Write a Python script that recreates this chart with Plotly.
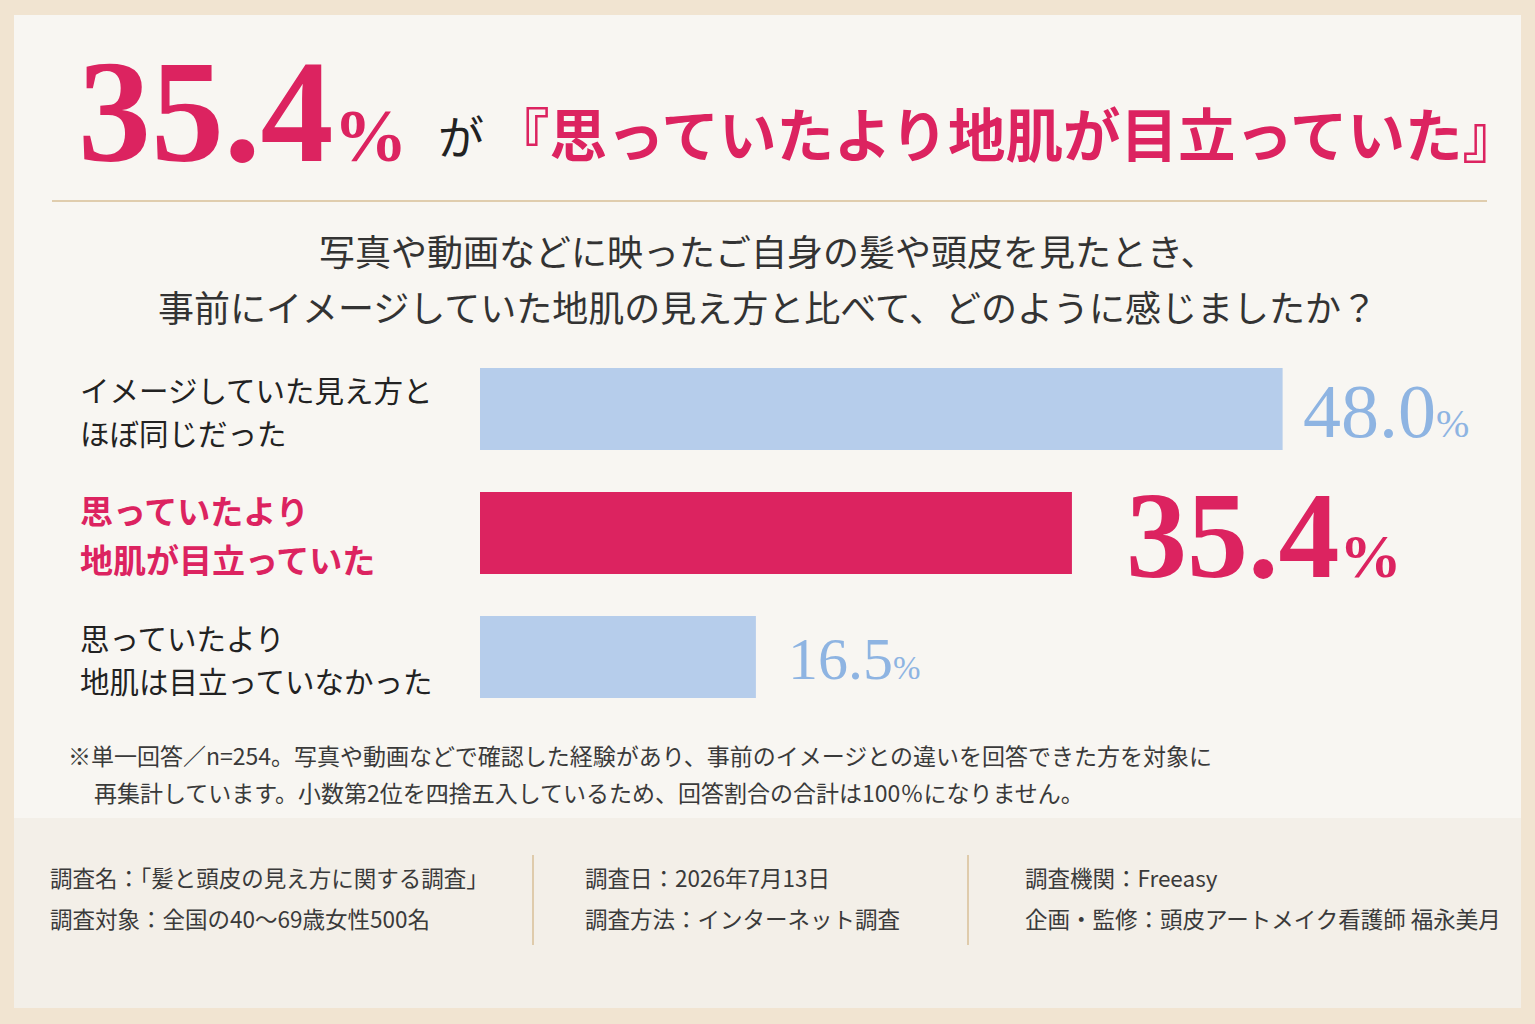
import plotly.graph_objects as go

# survey results
categories = [
    'イメージしていた見え方と<br>ほぼ同じだった',
    '思っていたより<br>地肌が目立っていた',
    '思っていたより<br>地肌は目立っていなかった',
]
shares = [48.0, 35.4, 16.5]
highlight = [False, True, False]

headline_value = 35.4
headline_text = '『思っていたより地肌が目立っていた』'
question = ['写真や動画などに映ったご自身の髪や頭皮を見たとき、',
            '事前にイメージしていた地肌の見え方と比べて、どのように感じましたか？']
notes = ['※単一回答／n=254。写真や動画などで確認した経験があり、事前のイメージとの違いを回答できた方を対象に',
         '再集計しています。小数第2位を四捨五入しているため、回答割合の合計は100％になりません。']
footer = [
    ['調査名：「髪と頭皮の見え方に関する調査」', '調査対象：全国の40～69歳女性500名'],
    ['調査日：2026年7月13日', '調査方法：インターネット調査'],
    ['調査機関：Freeasy', '企画・監修：頭皮アートメイク看護師 福永美月'],
]

W, H = 1535, 1024
RED = '#dc2360'
BLUE_BAR = '#b6cdeb'
BLUE_TXT = '#8eb4e2'
TAN = '#d9bf97'
SERIF = 'Liberation Serif, Noto Sans CJK JP, serif'
JP = 'Noto Sans CJK JP, sans-serif'


def px(x):
    return x / W


def py(y):
    return 1 - y / H


fig = go.Figure()
fig.add_trace(go.Bar(
    x=shares,
    y=categories,
    orientation='h',
    width=0.66,
    marker=dict(color=[RED if h else BLUE_BAR for h in highlight], line=dict(width=0)),
    hoverinfo='skip',
))

shapes = [
    # card, footer band, dividers
    dict(type='rect', xref='paper', yref='paper', x0=px(14), x1=px(1521), y0=py(1008), y1=py(15),
         fillcolor='#f8f6f2', line=dict(width=0), layer='below'),
    dict(type='rect', xref='paper', yref='paper', x0=px(14), x1=px(1521), y0=py(1008), y1=py(818),
         fillcolor='#f3efe8', line=dict(width=0), layer='below'),
    dict(type='line', xref='paper', yref='paper', x0=px(52), x1=px(1487), y0=py(201), y1=py(201),
         line=dict(color=TAN, width=1.5)),
    dict(type='line', xref='paper', yref='paper', x0=px(533), x1=px(533), y0=py(855), y1=py(945),
         line=dict(color=TAN, width=1.5)),
    dict(type='line', xref='paper', yref='paper', x0=px(968), x1=px(968), y0=py(855), y1=py(945),
         line=dict(color=TAN, width=1.5)),
]

ann = []
# headline
ann.append(dict(text=f'<b>{headline_value}</b><span style="font-size:74px"><b>%</b></span>',
                x=px(76), y=py(112), xref='paper', yref='paper', xanchor='left', yanchor='middle',
                showarrow=False, font=dict(family=SERIF, size=146, color=RED)))
ann.append(dict(text='が', x=px(436), y=py(134), xref='paper', yref='paper', xanchor='left', yanchor='middle',
                showarrow=False, font=dict(family=JP, size=46, color='#222222')))
ann.append(dict(text=f'<b>{headline_text}</b>', x=px(490), y=py(132), xref='paper', yref='paper',
                xanchor='left', yanchor='middle', showarrow=False,
                font=dict(family=JP, size=57.5, color=RED)))

# question
for i, line in enumerate(question):
    ann.append(dict(text=line, x=0.5, y=py(250 + 56 * i), xref='paper', yref='paper',
                    xanchor='center', yanchor='middle', showarrow=False,
                    font=dict(family=JP, size=36, color='#333333')))

# category labels (one annotation per line for wider leading) and values
for cat, v, h in zip(categories, shares, highlight):
    parts = cat.split('<br>')
    gap = 49 if h else 43
    for k, part in enumerate(parts):
        ann.append(dict(text=f'<b>{part}</b>' if h else part, x=px(78), y=cat, xref='paper', yref='y',
                        xanchor='left', yanchor='middle', showarrow=False,
                        yshift=gap * ((len(parts) - 1) / 2 - k) - 1,
                        font=dict(family=JP, size=33 if h else 29.5, color=RED if h else '#222222')))
    if h:
        txt = f'<b>{v:.1f}</b><span style="font-size:62px"><b>%</b></span>'
        f = dict(family=SERIF, size=122, color=RED)
        shift = 52
    else:
        big = v > 40
        txt = f'{v:.1f}<span style="font-size:{40 if big else 33}px">%</span>'
        f = dict(family=SERIF, size=76 if big else 60, color=BLUE_TXT)
        shift = 18 if big else 30
    ann.append(dict(text=txt, x=v, y=cat, xref='x', yref='y', xanchor='left', yanchor='middle',
                    xshift=shift, yshift=-2, showarrow=False, font=f))

# notes
for i, line in enumerate(notes):
    ann.append(dict(text=line, x=px(66 if i == 0 else 92), y=py(755 + 37 * i), xref='paper', yref='paper',
                    xanchor='left', yanchor='middle', showarrow=False,
                    font=dict(family=JP, size=23, color='#3a3a3a')))

# footer
for col, lines in zip([48, 583, 1023], footer):
    for j, line in enumerate(lines):
        ann.append(dict(text=line, x=px(col), y=py(877 + 41 * j), xref='paper', yref='paper',
                        xanchor='left', yanchor='middle', showarrow=False,
                        font=dict(family=JP, size=22.5, color='#3a3a3a')))

fig.update_layout(
    width=W, height=H,
    margin=dict(l=0, r=0, t=0, b=0),
    paper_bgcolor='#f1e4d1',
    plot_bgcolor='rgba(0,0,0,0)',
    showlegend=False,
    shapes=shapes,
    annotations=ann,
    xaxis=dict(domain=[px(480), px(1500)], range=[0, 61], visible=False, fixedrange=True),
    yaxis=dict(domain=[py(719), py(347)], range=[2.5, -0.5], type='category', visible=False,
               fixedrange=True),
)

fig.write_html('out.html', config=dict(displayModeBar=False),
               post_script="document.body.style.margin='0';document.body.style.overflow='hidden';")
